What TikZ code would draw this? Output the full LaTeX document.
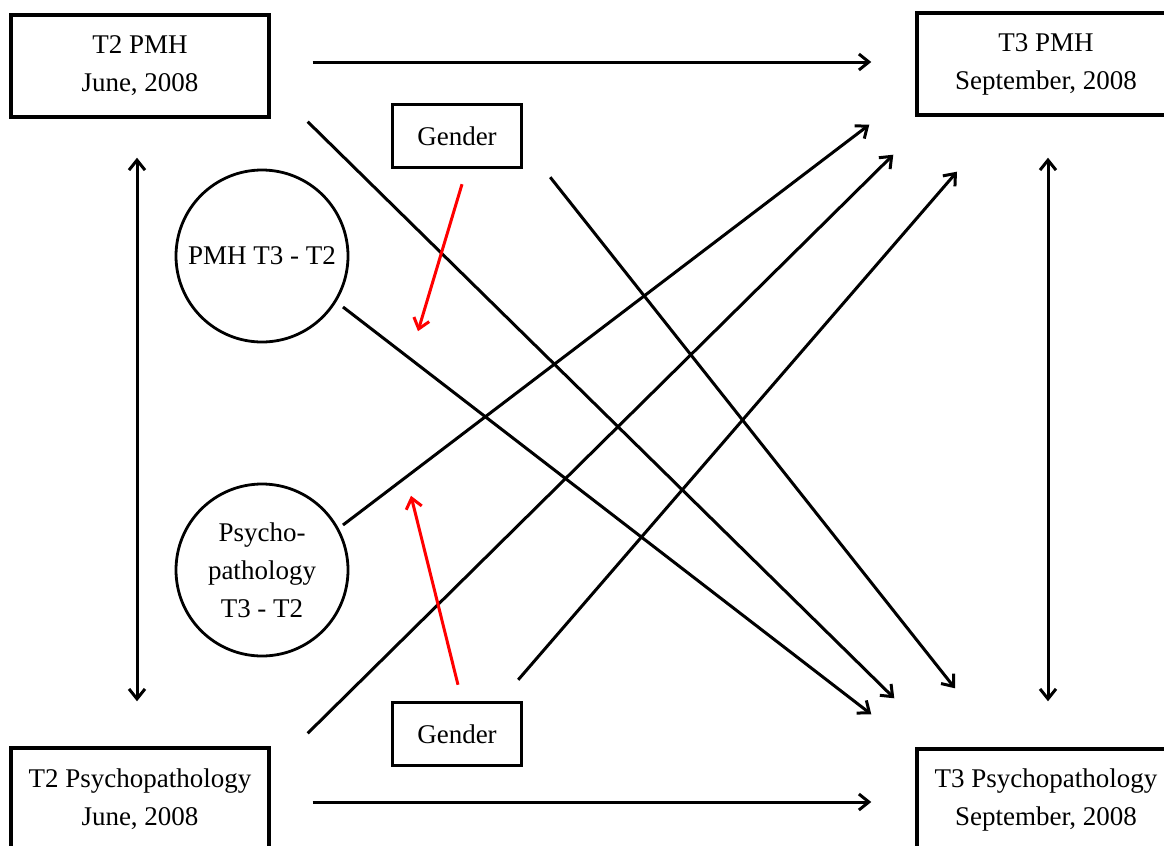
\documentclass[tikz,border=0pt]{standalone}
\usepackage{fontspec}
\setmainfont{Liberation Serif}
\usetikzlibrary{arrows.meta,calc}

\begin{document}
\begin{tikzpicture}[
        x=0.5pt, y=-0.5pt,
        >={Straight Barb[length=5pt,width=8pt]},
        every node/.style={font=\fontsize{13.5}{19}\selectfont, align=center},
        box/.style={draw, line width=1.7pt, minimum width=129pt, minimum height=51pt, inner sep=0pt},
        gbox/.style={draw, line width=1.7pt, minimum width=64.5pt, minimum height=31.5pt, inner sep=0pt},
        bubble/.style={draw, circle, line width=1.4pt, minimum size=86pt, inner sep=0pt},
        link/.style={line width=1.5pt, ->},
        redlink/.style={link, red}
    ]
    \useasboundingbox (0,0) rectangle (1164,846);
    \clip (0,0) rectangle (1164,846);

    % boxes and circles
    \node[box] (t2pmh) at (140,66) {T2 PMH\\June, 2008};
    \node[box] (t3pmh) at (1046,64) {T3 PMH\\September, 2008};
    \node[box] (t2psy) at (140,799) {T2 Psychopathology\\June, 2008};
    \node[box] (t3psy) at (1046,800) {T3 Psychopathology\\September, 2008};
    \node[gbox] (gtop) at (457,136) {Gender};
    \node[gbox] (gbot) at (457,734) {Gender};
    \node[bubble] (cpmh) at (262,256) {PMH T3 - T2};
    \node[bubble] (cpsy) at (262,570) {Psycho-\\pathology\\T3 - T2};

    % stability paths
    \draw[link] ($(t2pmh.east)+(42,-4)$) -- ($(t3pmh.west)+(-44,-2)$);
    \draw[link] ($(t2psy.east)+(42,3)$) -- ($(t3psy.west)+(-44,2)$);
    \draw[link, <->] ($(t2pmh.south)+(-3,39)$) -- ($(t2psy.north)+(-3,-45)$);
    \draw[link, <->] ($(t3pmh.south)+(2,41)$) -- ($(t3psy.north)+(2,-46)$);

    % cross paths
    \draw[link] ($(t2pmh.south east)+(37,3)$) -- ($(t3psy.north west)+(-21,-49)$);
    \draw[link] ($(gtop.south east)+(27,8)$) -- ($(t3psy.north)+(-91,-59)$);
    \draw[link] ($(cpmh.center)+(81,51)$) -- ($(t3psy.north west)+(-44,-33)$);
    \draw[link] ($(cpsy.center)+(81,-45)$) -- ($(t3pmh.south west)+(-46,8)$);
    \draw[link] ($(t2psy.north east)+(37,-13)$) -- ($(t3pmh.south west)+(-22,38)$);
    \draw[link] ($(gbot.north east)+(-5,-21)$) -- ($(t3pmh.south)+(-89,55)$);

    % moderation by gender
    \draw[redlink] ($(gtop.south)+(5,15)$) -- ($(gtop.south)+(-39,162)$);
    \draw[redlink] ($(gbot.north)+(1,-16)$) -- ($(gbot.north)+(-46,-205)$);
\end{tikzpicture}
\end{document}
